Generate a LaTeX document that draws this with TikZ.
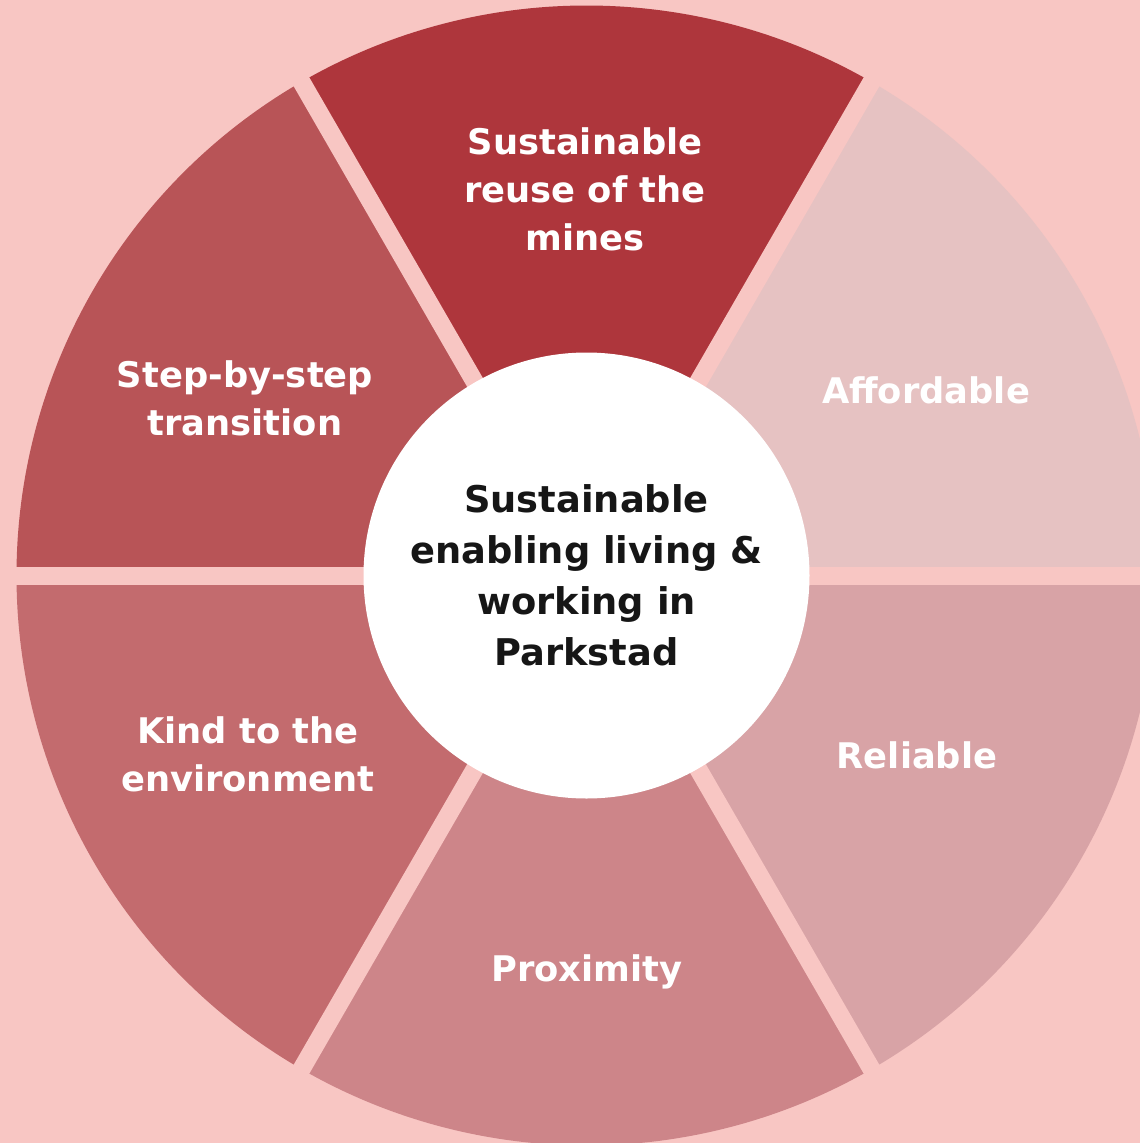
\documentclass[tikz,border=0pt]{standalone}
\usepackage{fontspec}
\setmainfont{DejaVu Sans}
\definecolor{bgpink}{RGB}{248,198,195}
\definecolor{segA}{RGB}{174,54,60}
\definecolor{segB}{RGB}{184,84,87}
\definecolor{segC}{RGB}{195,107,110}
\definecolor{segD}{RGB}{205,133,137}
\definecolor{segE}{RGB}{216,163,166}
\definecolor{segF}{RGB}{230,194,194}
\definecolor{hubtext}{RGB}{22,22,22}
\tikzset{
  seglabel/.style={text=white, align=center, inner sep=0pt,
    font=\fontsize{35.3}{48}\selectfont\bfseries},
  hubstyle/.style={circle, fill=white, minimum size=446pt, inner sep=0pt,
    text=hubtext, align=center, font=\fontsize{36.8}{51}\selectfont\bfseries},
  gapline/.style={draw=bgpink, line width=18pt}
}
\begin{document}
\begin{tikzpicture}[x=1pt,y=1pt]
  \fill[bgpink] (0,0) rectangle (1140,-1143);
  \useasboundingbox (0,0) rectangle (1140,-1143);
  \coordinate (c) at (586.5,-575.5);
  % wedges
  \fill[segF] (c) -- ++(0:570) arc[start angle=0,end angle=60,radius=570] -- cycle;
  \fill[segA] (c) -- ++(60:570) arc[start angle=60,end angle=120,radius=570] -- cycle;
  \fill[segB] (c) -- ++(120:570) arc[start angle=120,end angle=180,radius=570] -- cycle;
  \fill[segC] (c) -- ++(180:570) arc[start angle=180,end angle=240,radius=570] -- cycle;
  \fill[segD] (c) -- ++(240:570) arc[start angle=240,end angle=300,radius=570] -- cycle;
  \fill[segE] (c) -- ++(300:570) arc[start angle=300,end angle=360,radius=570] -- cycle;
  % gaps
  \draw[gapline] ([shift={(0:600)}]c) -- ([shift={(180:600)}]c);
  \draw[gapline] ([shift={(60:600)}]c) -- ([shift={(240:600)}]c);
  \draw[gapline] ([shift={(120:600)}]c) -- ([shift={(300:600)}]c);
  % hub
  \node[hubstyle] (hub) at (c) {\raisebox{3pt}{\parbox{400pt}{\centering Sustainable\\enabling living \&\\working in\\Parkstad}}};
  % labels
  \node[seglabel] (mines) at (585,-189) {Sustainable\\reuse of the\\mines};
  \node[seglabel] (afford) at (926,-390) {Affordable};
  \node[seglabel] (step) at (245,-398) {Step-by-step\\transition};
  \node[seglabel] (kind) at (248,-754) {Kind to the\\environment};
  \node[seglabel] (reli) at (917,-755) {Reliable};
  \node[seglabel] (prox) at (587,-972) {Proximity};
\end{tikzpicture}
\end{document}
